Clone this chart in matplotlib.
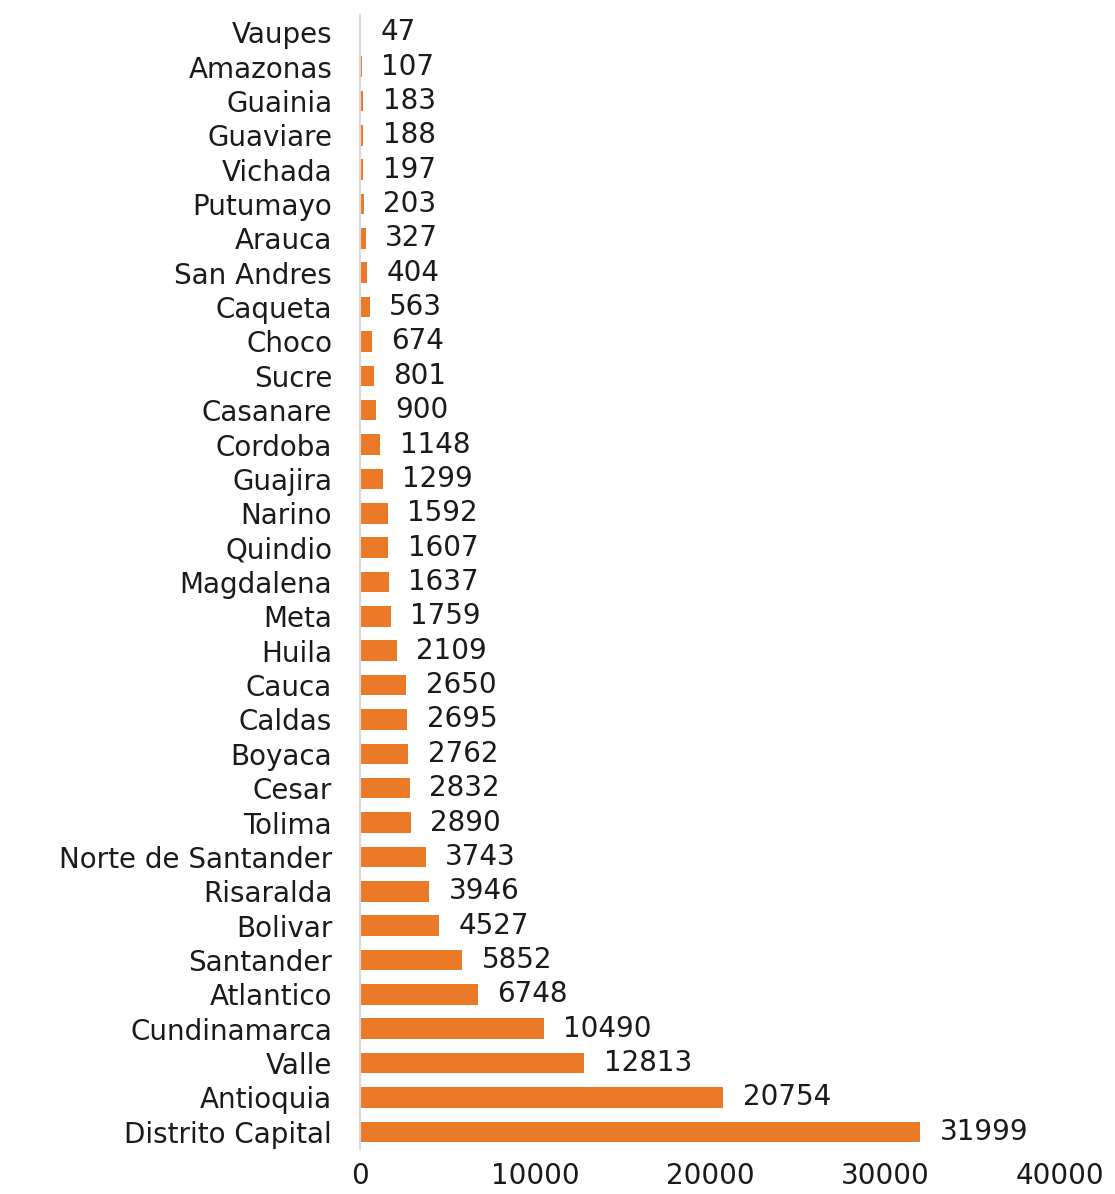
import matplotlib
matplotlib.use("Agg")
import matplotlib.pyplot as plt

departments = ["Vaupes", "Amazonas", "Guainia", "Guaviare", "Vichada", "Putumayo",
               "Arauca", "San Andres", "Caqueta", "Choco", "Sucre", "Casanare",
               "Cordoba", "Guajira", "Narino", "Quindio", "Magdalena", "Meta",
               "Huila", "Cauca", "Caldas", "Boyaca", "Cesar", "Tolima",
               "Norte de Santander", "Risaralda", "Bolivar", "Santander",
               "Atlantico", "Cundinamarca", "Valle", "Antioquia", "Distrito Capital"]
values = [47, 107, 183, 188, 197, 203, 327, 404, 563, 674, 801, 900, 1148, 1299,
          1592, 1607, 1637, 1759, 2109, 2650, 2695, 2762, 2832, 2890, 3743, 3946,
          4527, 5852, 6748, 10490, 12813, 20754, 31999]
xticks = [0, 10000, 20000, 30000, 40000]

plt.rcParams['font.family'] = ['DejaVu Sans']
W, H = 1115, 1194
fig = plt.figure(figsize=(W / 100, H / 100), dpi=100)
ax = fig.add_axes([360 / W, (H - 1149) / H, 700 / W, (1149 - 15) / H])

FS = 20
n = len(departments)
ypos = list(range(n))
ax.barh(ypos, values, height=0.6, color="#EA7A27")
ax.set_ylim(n - 0.5, -0.5)
ax.set_xlim(0, 40000)
ax.set_yticks(ypos)
ax.set_yticklabels(departments, fontsize=FS, color="#1a1a1a")
ax.set_xticks(xticks)
ax.set_xticklabels([str(t) for t in xticks], fontsize=FS, color="#1a1a1a")
ax.tick_params(axis="both", length=0)
ax.tick_params(axis="y", pad=20)
ax.tick_params(axis="x", pad=9)
for s in ["top", "right", "bottom"]:
    ax.spines[s].set_visible(False)
ax.spines["left"].set_color("#d9d9d9")
ax.spines["left"].set_linewidth(1.5)

for y, v in zip(ypos, values):
    ax.annotate(str(v), (v, y), xytext=(14, 0), textcoords="offset points",
                va="center", ha="left", fontsize=FS, color="#1a1a1a")

fig.savefig("out.png", dpi=100, facecolor="white")
